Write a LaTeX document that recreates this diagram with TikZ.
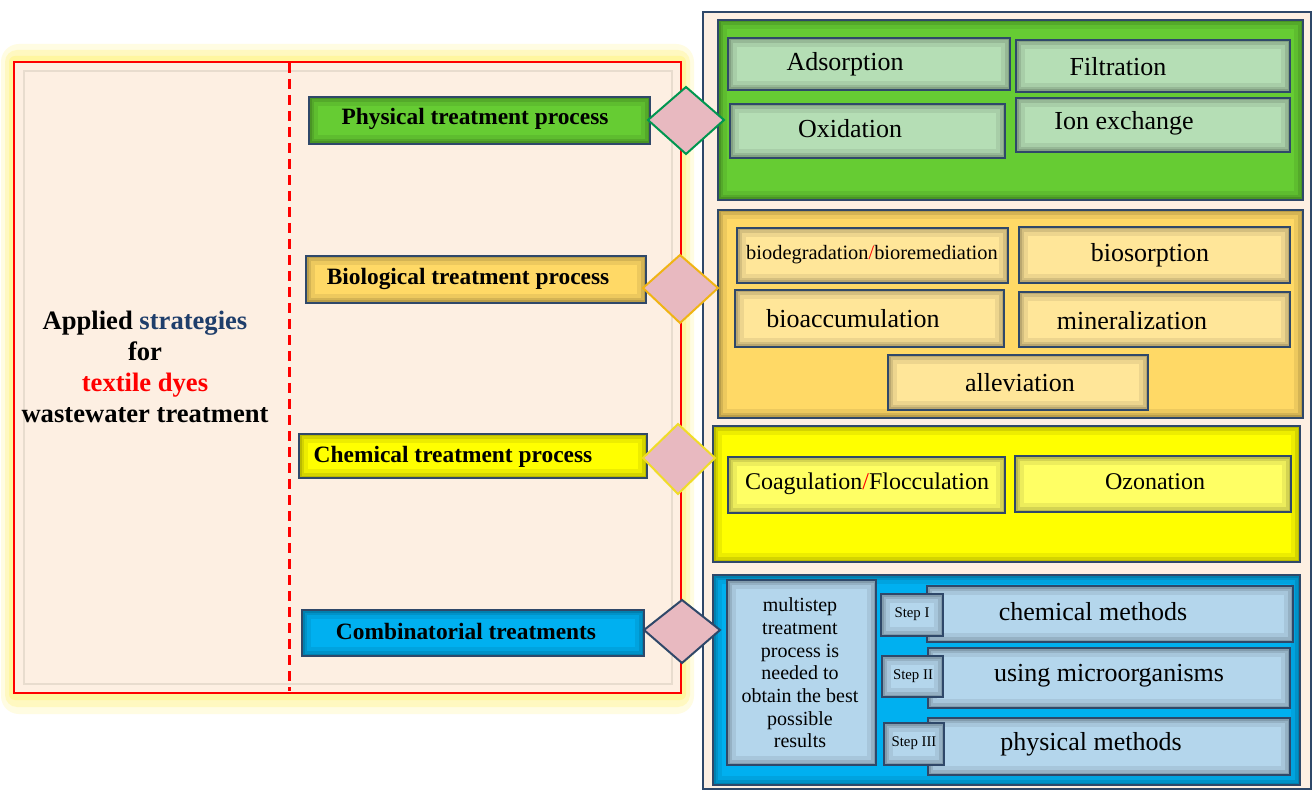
\documentclass[tikz,border=0pt]{standalone}
\usepackage{fontspec}
\setmainfont{Liberation Serif}
\usepackage{tikz}

\definecolor{peach}{RGB}{253,239,226}
\definecolor{glow}{RGB}{255,246,160}
\definecolor{navy}{RGB}{47,72,105}
\definecolor{grn}{RGB}{102,204,51}
\definecolor{grnlt}{RGB}{181,222,181}
\definecolor{gold}{RGB}{255,217,102}
\definecolor{goldlt}{RGB}{255,230,153}
\definecolor{yel}{RGB}{255,255,0}
\definecolor{yellt}{RGB}{255,255,100}
\definecolor{sky}{RGB}{0,176,240}
\definecolor{skylt}{RGB}{180,214,236}
\definecolor{rose}{RGB}{232,185,192}
\definecolor{stratblue}{RGB}{31,62,107}

\begin{document}
\begin{tikzpicture}[x=0.5pt,y=0.5pt,yscale=-1,xscale=1,
  inset/.style={draw=navy, line width=1pt,
    path picture={
      \draw[black, opacity=0.07, line width=9pt] (path picture bounding box.south west) rectangle (path picture bounding box.north east);
      \draw[black, opacity=0.1, line width=5pt] (path picture bounding box.south west) rectangle (path picture bounding box.north east);
      \draw[black, opacity=0.12, line width=2.5pt] (path picture bounding box.south west) rectangle (path picture bounding box.north east);}},
  gem/.style={fill=rose, line width=1pt},
  txt/.style={inner sep=0pt, font=\fontsize{13pt}{15pt}\selectfont},
  proctxt/.style={inner sep=0pt, font=\fontsize{11.7pt}{14pt}\selectfont\bfseries},
  steptxt/.style={inner sep=0pt, font=\fontsize{7.4pt}{9pt}\selectfont}]
\useasboundingbox (0,0) rectangle (1313,791);
\fill[white] (0,0) rectangle (1313,791);

%Shape: Glow round the left panel
\fill[glow, opacity=0.3, rounded corners=9pt] (1,44) rectangle (694,714);
\fill[glow, opacity=0.5, rounded corners=6pt] (5,50) rectangle (690,707);
\fill[glow, rounded corners=3pt] (9,56) rectangle (686,700);
%Shape: Left panel
\draw[red, line width=1pt, fill=peach] (14,62) rectangle (681,693);
\draw[color={rgb,255:red,232;green,220;blue,206}, line width=1pt] (24,71) rectangle (672,684);
%Straight Lines
\draw[red, line width=1.5pt, dash pattern=on 5pt off 3pt] (289,63) -- (289,691);

% Text Node
\node[inner sep=0pt, align=center, font=\fontsize{13.3pt}{15.5pt}\selectfont\bfseries] (aim) at (145,367)
  {Applied \textcolor{stratblue}{strategies}\\for\\\textcolor{red}{textile dyes}\\wastewater treatment};

%Shape: Right panel
\draw[navy, line width=1pt, fill=peach] (703,12) rectangle (1311,789);

%Shape: Physical panel and its boxes
\draw[inset, fill=grn] (718,20) rectangle (1303,200);
\draw[inset, fill=grnlt] (728,38) rectangle (1010,90);
\draw[inset, fill=grnlt] (1016,40) rectangle (1290,92);
\draw[inset, fill=grnlt] (730,104) rectangle (1005,158);
\draw[inset, fill=grnlt] (1016,98) rectangle (1290,152);
% Text Node
\node[txt] (adsorp) at (845,64) {Adsorption};
\node[txt] (filtr) at (1118,67) {Filtration};
\node[txt] (oxid) at (850,129) {Oxidation};
\node[txt] (ionex) at (1124,123) {Ion exchange};

%Shape: Biological panel and its boxes
\draw[inset, fill=gold] (718,210) rectangle (1303,418);
\draw[inset, fill=goldlt] (737,228) rectangle (1008,283);
\draw[inset, fill=goldlt] (1019,227) rectangle (1290,283);
\draw[inset, fill=goldlt] (735,290) rectangle (1004,347);
\draw[inset, fill=goldlt] (1019,292) rectangle (1290,347);
\draw[inset, fill=goldlt] (888,355) rectangle (1148,410);
% Text Node
\node[inner sep=0pt, font=\fontsize{10.2pt}{12pt}\selectfont] (biodeg) at (872,255) {biodegradation\textcolor{red}{/}bioremediation};
\node[txt] (biosorp) at (1150,255) {biosorption};
\node[txt] (bioacc) at (853,319) {bioaccumulation};
\node[txt] (miner) at (1132,321) {mineralization};
\node[txt] (allev) at (1020,383) {alleviation};

%Shape: Chemical panel and its boxes
\draw[inset, fill=yel] (713,426) rectangle (1300,562);
\draw[inset, fill=yellt] (728,457) rectangle (1005,513);
\draw[inset, fill=yellt] (1015,456) rectangle (1291,512);
% Text Node
\node[txt, font=\fontsize{12pt}{14pt}\selectfont] (coag) at (867,484) {Coagulation\textcolor{red}{/}Flocculation};
\node[txt, font=\fontsize{12pt}{14pt}\selectfont] (ozon) at (1155,482) {Ozonation};

%Shape: Combinatorial panel and its boxes
\draw[inset, fill=sky] (713,575) rectangle (1300,785);
\draw[inset, fill=skylt] (727,580) rectangle (876,765);
\draw[inset, fill=skylt] (927,586) rectangle (1293,642);
\draw[inset, fill=skylt] (928,648) rectangle (1290,708);
\draw[inset, fill=skylt] (928,718) rectangle (1290,775);
\draw[inset, fill=skylt] (881,594) rectangle (943,636);
\draw[inset, fill=skylt] (882,656) rectangle (943,697);
\draw[inset, fill=skylt] (884,723) rectangle (944,765);
% Text Node
\node[inner sep=0pt, align=center, font=\fontsize{10pt}{11.35pt}\selectfont] (multi) at (800,673)
  {multistep\\treatment\\process is\\needed to\\obtain the best\\possible\\results};
\node[steptxt] (st1) at (912,614) {Step I};
\node[steptxt] (st2) at (913,676) {Step II};
\node[steptxt] (st3) at (914,743) {Step III};
\node[txt] (chemm) at (1093,612) {chemical methods};
\node[txt] (micro) at (1109,676) {using microorganisms};
\node[txt] (physm) at (1091,744) {physical methods};

%Shape: Process boxes
\draw[inset, fill=grn] (309,97) rectangle (650,144);
\draw[inset, fill=gold] (306,256) rectangle (646,303);
\draw[inset, fill=yel] (299,434) rectangle (647,478);
\draw[inset, fill=sky] (302,610) rectangle (644,656);
% Text Node
\node[proctxt] (phys) at (475,119) {Physical treatment process};
\node[proctxt] (bio) at (468,279) {Biological treatment process};
\node[proctxt] (chem) at (453,457) {Chemical treatment process};
\node[proctxt] (comb) at (466,631) {Combinatorial treatments};

%Shape: Diamonds
\draw[gem, draw={rgb,255:red,0;green,150;blue,80}] (648,120) -- (686,87) -- (724,120) -- (686,154) -- cycle;
\draw[gem, draw={rgb,255:red,240;green,180;blue,20}] (643,288) -- (680,255) -- (718,288) -- (680,323) -- cycle;
\draw[gem, draw={rgb,255:red,240;green,220;blue,40}] (643,458) -- (678,424) -- (715,458) -- (678,494) -- cycle;
\draw[gem, draw=navy] (644,630) -- (682,600) -- (720,630) -- (682,663) -- cycle;

\end{tikzpicture}
\end{document}
